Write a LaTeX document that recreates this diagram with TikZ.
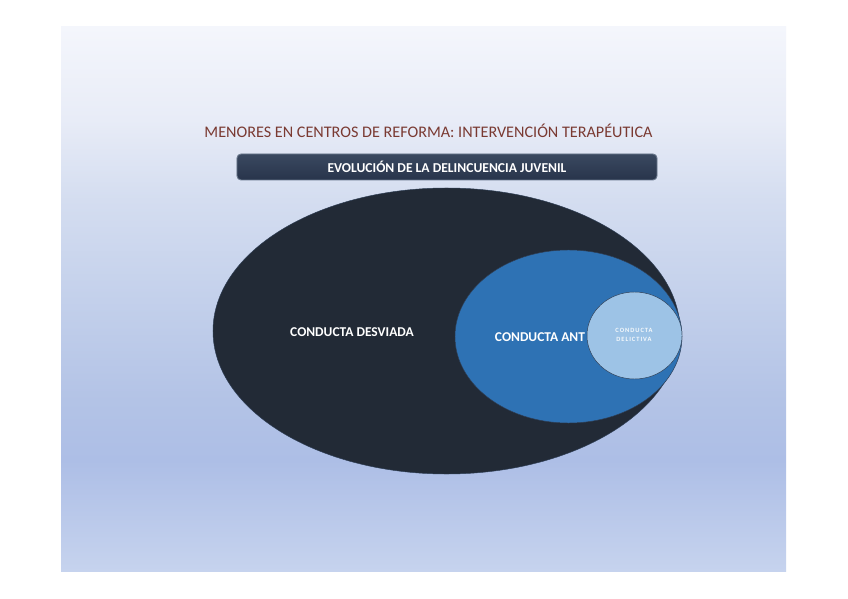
\documentclass[tikz,border=0pt]{standalone}
\usepackage{fontspec}
\setmainfont{Carlito}
\usetikzlibrary{shapes.geometric}
\definecolor{bgtop}{HTML}{F4F6FC}
\definecolor{bghigh}{HTML}{E8ECF7}
\definecolor{bgupper}{HTML}{D4DDF0}
\definecolor{bgmid}{HTML}{C3D0EB}
\definecolor{bglower}{HTML}{B3C3E6}
\definecolor{bglow}{HTML}{ADBEE6}
\definecolor{bgbot}{HTML}{C6D3EE}
\definecolor{titlered}{HTML}{7A3A32}
\definecolor{bannertop}{HTML}{3A4960}
\definecolor{bannerbot}{HTML}{28344B}
\definecolor{bannerline}{HTML}{6A788C}
\definecolor{desviada}{HTML}{222A36}
\definecolor{antisocial}{HTML}{2E72B4}
\definecolor{delictiva}{HTML}{9DC3E6}
\definecolor{rimline}{HTML}{2E3E55}
\pgfdeclareverticalshading{slidebg}{100bp}{color(0bp)=(bgbot); color(25bp)=(bgbot);
  color(35.2bp)=(bglow); color(40.7bp)=(bglower); color(49.9bp)=(bgmid);
  color(59.1bp)=(bgupper); color(66.5bp)=(bghigh); color(75bp)=(bgtop); color(100bp)=(bgtop)}

\begin{document}
\begin{tikzpicture}[x=0.03cm,y=-0.03cm,
  heading/.style={font=\fontsize{13.8}{16}\selectfont,text=titlered,inner sep=0pt},
  banner/.style={draw=bannerline,thick,rounded corners=3.5pt,top color=bannertop,
    bottom color=bannerbot,minimum width=12.6cm,minimum height=0.78cm,
    text=white,font=\bfseries\fontsize{11.6}{13}\selectfont},
  circle1/.style={ellipse,draw=rimline,fill=desviada,inner sep=0pt},
  circle2/.style={ellipse,draw=rimline,fill=antisocial,inner sep=0pt},
  circle3/.style={ellipse,draw=rimline,fill=delictiva,inner sep=0pt},
  biglabel/.style={text=white,font=\bfseries\fontsize{11.5}{13}\selectfont,inner sep=0pt},
  smalllabel/.style={text=white!90!delictiva,
    font=\bfseries\fontsize{5.5}{7.5}\selectfont\addfontfeatures{LetterSpace=15},
    align=center,inner sep=0pt}
]
\useasboundingbox[fill=white] (0,0) rectangle (848,599);
\shade[shading=slidebg] (61,27) rectangle (786,571);

\node[heading] (title) at (428.5,131) {MENORES EN CENTROS DE REFORMA: INTERVENCIÓN TERAPÉUTICA};
\node[banner] (evol) at (447,167) {EVOLUCIÓN DE LA DELINCUENCIA JUVENIL};

\node[circle1,minimum width=14.01cm,minimum height=8.58cm] (desv) at (446.5,331) {};
\node[circle2,minimum width=6.81cm,minimum height=5.19cm] (ant) at (568.5,336.5) {};
\node[circle3,minimum width=2.85cm,minimum height=2.61cm] (delic) at (634.5,335.5) {};

\node[biglabel] (desvtext) at (352,332) {CONDUCTA DESVIADA};
\node[biglabel] (anttext) at (540,337) {CONDUCTA ANT};
\node[smalllabel] (delictext) at (634,335) {CONDUCTA\\DELICTIVA};
\end{tikzpicture}
\end{document}
